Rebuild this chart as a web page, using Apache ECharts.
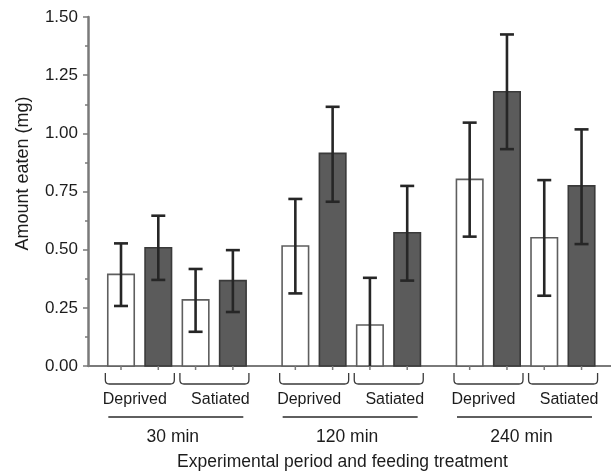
<!DOCTYPE html>
<html>
<head>
<meta charset="utf-8">
<script src="https://cdn.jsdelivr.net/npm/echarts@6/dist/echarts.min.js"></script>
<style>
  html, body { margin: 0; padding: 0; background: #fff; }
  #chart { width: 611px; height: 474px; }
</style>
</head>
<body>
<div id="chart"></div>
<script>
// data
const periods = ['30 min', '120 min', '240 min']
const treatments = ['Deprived', 'Satiated']
// per bar: white = control, dark = treated (order: period, treatment, pair)
const means = [0.394, 0.508, 0.284, 0.367, 0.516, 0.914, 0.176, 0.573, 0.802, 1.179, 0.551, 0.774]
const errLow = [0.258, 0.370, 0.147, 0.232, 0.312, 0.706, -0.03, 0.367, 0.556, 0.932, 0.302, 0.524]
const errHigh = [0.527, 0.646, 0.417, 0.498, 0.718, 1.114, 0.379, 0.774, 1.046, 1.425, 0.799, 1.017]
const yTicks = [0, 0.25, 0.5, 0.75, 1.0, 1.25, 1.5]

const groupGap = 0.675
const barW = 0.71
const textColor = '#1c1c1c'
const axisColor = '#7a7a7a'
const font = 'Liberation Sans, Arial, sans-serif'

function xPos(i) {
  return i + Math.floor(i / 4) * groupGap
}

const barData = means.map((v, i) => [xPos(i), v, i % 2])
const errData = means.map((v, i) => [xPos(i), errLow[i], errHigh[i]])

const pairData = []
periods.forEach((p, g) => {
  treatments.forEach((t, k) => {
    const i = g * 4 + k * 2
    pairData.push([xPos(i) - 0.42, xPos(i + 1) + 0.43, t, k])
  })
})
const periodData = periods.map((p, g) => [xPos(g * 4) - 0.34, xPos(g * 4 + 3) + 0.28, p])

const chart = echarts.init(document.getElementById('chart'))

chart.setOption({
  animation: false,
  grid: { left: 88, right: 0, top: 17, bottom: 108, containLabel: false, outerBoundsMode: 'none' },
  xAxis: {
    type: 'value',
    min: -0.885,
    max: 13.14,
    axisLine: { show: true, onZero: false, lineStyle: { color: axisColor, width: 2 } },
    axisTick: { show: false },
    axisLabel: { show: false },
    splitLine: { show: false },
    name: 'Experimental period and feeding treatment',
    nameLocation: 'middle',
    nameGap: 87,
    nameTextStyle: { fontSize: 17.5, color: textColor, fontFamily: font, padding: [0, 14, 0, 0] }
  },
  yAxis: {
    type: 'value',
    min: 0,
    max: 1.5,
    interval: 0.25,
    axisLine: { show: true, onZero: false, lineStyle: { color: axisColor, width: 2.5 } },
    axisTick: { show: true, length: 5, lineStyle: { color: axisColor, width: 1.5 } },
    minorTick: { show: true, splitNumber: 2, length: 3, lineStyle: { color: axisColor, width: 1.5 } },
    splitLine: { show: false },
    axisLabel: {
      margin: 10,
      fontSize: 17,
      color: textColor,
      fontFamily: font,
      formatter: v => yTicks.includes(v) ? v.toFixed(2) : ''
    },
    name: 'Amount eaten (mg)',
    nameLocation: 'middle',
    nameGap: 56,
    nameTextStyle: { fontSize: 18, color: textColor, fontFamily: font, padding: [0, 0, 0, 36] }
  },
  series: [
    {
      type: 'custom',
      clip: false,
      data: barData,
      z: 2,
      renderItem: (params, api) => {
        const x = api.value(0)
        const top = api.coord([x - barW / 2, api.value(1)])
        const base = api.coord([x + barW / 2, 0])
        const dark = api.value(2) === 1
        const mid = api.coord([x, 0])
        return {
          type: 'group',
          children: [
            {
              type: 'rect',
              shape: { x: top[0], y: top[1], width: base[0] - top[0], height: base[1] - top[1] },
              style: { fill: dark ? '#5b5b5b' : '#ffffff', stroke: dark ? '#3a3a3a' : '#5e5e5e', lineWidth: 1.6 }
            },
            {
              type: 'line',
              shape: { x1: mid[0], y1: mid[1], x2: mid[0], y2: mid[1] + 4 },
              style: { stroke: axisColor, lineWidth: 1.5 }
            }
          ]
        }
      }
    },
    {
      type: 'custom',
      clip: true,
      data: errData,
      z: 3,
      renderItem: (params, api) => {
        const x = api.value(0)
        const lo = api.coord([x, api.value(1)])
        const hi = api.coord([x, api.value(2)])
        const cap = 7
        const st = { stroke: '#262626', lineWidth: 2.6 }
        return {
          type: 'group',
          children: [
            { type: 'line', shape: { x1: lo[0], y1: lo[1], x2: hi[0], y2: hi[1] }, style: st },
            { type: 'line', shape: { x1: hi[0] - cap, y1: hi[1], x2: hi[0] + cap, y2: hi[1] }, style: st },
            { type: 'line', shape: { x1: lo[0] - cap, y1: lo[1], x2: lo[0] + cap, y2: lo[1] }, style: st }
          ]
        }
      }
    },
    {
      type: 'custom',
      clip: false,
      data: pairData,
      renderItem: (params, api) => {
        const l = api.coord([api.value(0), 0])
        const r = api.coord([api.value(1), 0])
        const y0 = l[1] + 7
        const y1 = l[1] + 18
        const rad = 4
        const k = api.value(3)
        const cx = (l[0] + r[0]) / 2 + (k === 0 ? -5 : 6)
        return {
          type: 'group',
          children: [
            {
              type: 'path',
              shape: {
                pathData: `M${l[0]},${y0} L${l[0]},${y1 - rad} Q${l[0]},${y1} ${l[0] + rad},${y1} L${r[0] - rad},${y1} Q${r[0]},${y1} ${r[0]},${y1 - rad} L${r[0]},${y0}`
              },
              style: { fill: 'none', stroke: '#3a3a3a', lineWidth: 1.3 }
            },
            {
              type: 'text',
              style: {
                text: treatments[k],
                x: cx,
                y: l[1] + 34,
                align: 'center',
                verticalAlign: 'middle',
                fontSize: 16,
                fontFamily: font,
                fill: textColor
              }
            }
          ]
        }
      }
    },
    {
      type: 'custom',
      clip: false,
      data: periodData,
      renderItem: (params, api) => {
        const l = api.coord([api.value(0), 0])
        const r = api.coord([api.value(1), 0])
        const y = l[1] + 51
        return {
          type: 'group',
          children: [
            {
              type: 'line',
              shape: { x1: l[0], y1: y, x2: r[0], y2: y },
              style: { stroke: '#2a2a2a', lineWidth: 1.3 }
            },
            {
              type: 'text',
              style: {
                text: periods[params.dataIndex],
                x: (l[0] + r[0]) / 2 - 3,
                y: l[1] + 71,
                align: 'center',
                verticalAlign: 'middle',
                fontSize: 17.5,
                fontFamily: font,
                fill: textColor
              }
            }
          ]
        }
      }
    }
  ]
})
</script>
</body>
</html>
